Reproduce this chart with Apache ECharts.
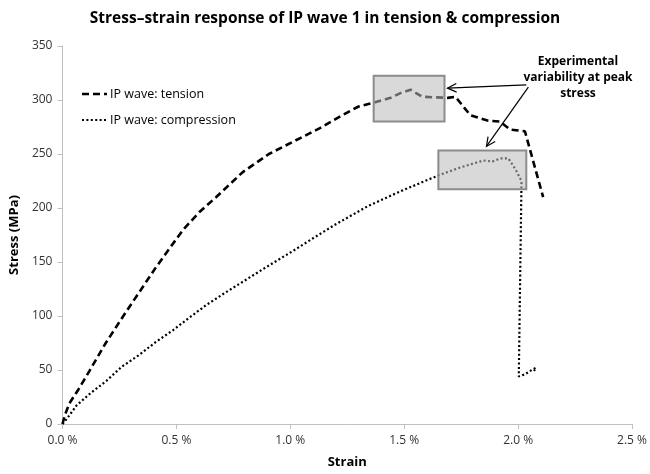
<!DOCTYPE html>
<html>
<head>
<meta charset="utf-8">
<script src="https://cdn.jsdelivr.net/npm/echarts@6/dist/echarts.min.js"></script>
<style>html,body{margin:0;padding:0;background:#fff}#c{width:650px;height:474px}</style>
</head>
<body>
<div id="c"></div>
<script>
// Strain (%) and stress (MPa)
const tensionStrain = [0, 0.01, 0.03, 0.07, 0.118, 0.19, 0.267, 0.34, 0.41, 0.468, 0.53, 0.6, 0.674, 0.79, 0.906, 1.046, 1.13, 1.22, 1.3, 1.366, 1.44, 1.49, 1.528, 1.58, 1.69, 1.725, 1.79, 1.865, 1.92, 1.966, 2.03, 2.11];
const tensionStress = [0, 8, 19, 32, 49, 75, 100, 123, 145, 162, 180, 196, 210, 233, 250, 265, 274, 285, 294, 297.5, 302, 307, 309.5, 303, 302, 303, 286, 281, 280, 272.6, 271, 210];
const compStrain = [0, 0.02, 0.061, 0.12, 0.193, 0.26, 0.337, 0.41, 0.486, 0.56, 0.63, 0.71, 0.79, 0.9, 1.01, 1.1, 1.2, 1.34, 1.484, 1.58, 1.66, 1.747, 1.848, 1.887, 1.922, 1.957, 1.988, 2.015, 2.01, 2.003, 2.03, 2.06, 2.078, 2.07];
const compStress = [0, 5, 17, 28, 40, 53, 64, 76, 87, 99, 110, 121, 131.5, 146, 160, 172, 185, 201.7, 215.5, 224, 231, 237.6, 244, 243, 246, 246, 236, 225, 150, 44, 46, 50, 52, 49];
const xTicks = [0, 0.5, 1.0, 1.5, 2.0, 2.5];
const yTicks = [0, 50, 100, 150, 200, 250, 300, 350];
const seriesNames = ['IP wave: tension', 'IP wave: compression'];
// Annotation regions (strain %, stress MPa)
const peakBoxes = [[1.366, 322.4, 1.677, 280], [1.65, 253.3, 2.036, 217.4]];
const arrowTail = [[2.036, 314], [2.045, 312]];
const arrowHead = [[1.69, 311], [1.861, 257]];
const noteLines = ['Experimental', 'variability at peak', 'stress'];

const font = '"Open Sans", "Noto Sans", sans-serif';
const pair = (xs, ys) => xs.map((x, i) => [x, ys[i]]);
const dashT = [7, 4], dashC = [2, 2.4];

const chart = echarts.init(document.getElementById('c'), null, {renderer: 'canvas'});
chart.setOption({
  animation: false,
  title: {
    text: 'Stress\u2013strain response of IP wave 1 in tension & compression',
    left: 'center', top: 6,
    textStyle: {fontFamily: font, fontWeight: 'bold', fontSize: 15.5, color: '#000'}
  },
  grid: {left: 61, right: 18, top: 46, bottom: 48},
  xAxis: {
    type: 'value', min: xTicks[0], max: xTicks[xTicks.length - 1], interval: 0.5,
    name: 'Strain', nameLocation: 'middle', nameGap: 32,
    nameTextStyle: {fontFamily: font, fontWeight: 'bold', fontSize: 13, color: '#000'},
    axisLine: {show: true, lineStyle: {color: '#bfbfbf', width: 1}},
    axisTick: {show: true, length: 5, lineStyle: {color: '#bfbfbf'}},
    splitLine: {show: false},
    axisLabel: {fontFamily: font, fontSize: 12, color: '#333', margin: 11,
      formatter: v => v.toFixed(1) + ' %'}
  },
  yAxis: {
    type: 'value', min: yTicks[0], max: yTicks[yTicks.length - 1], interval: 50,
    name: 'Stress (MPa)', nameLocation: 'middle', nameGap: 35, nameRotate: 90,
    nameTextStyle: {fontFamily: font, fontWeight: 'bold', fontSize: 13, color: '#000'},
    axisLine: {show: true, lineStyle: {color: '#bfbfbf', width: 1}},
    axisTick: {show: true, length: 5, lineStyle: {color: '#bfbfbf'}},
    splitLine: {show: false},
    axisLabel: {fontFamily: font, fontSize: 12, color: '#333', margin: 10}
  },
  series: [
    {
      name: seriesNames[0], type: 'line', data: pair(tensionStrain, tensionStress),
      symbol: 'none', smooth: false, z: 2,
      lineStyle: {color: '#000', width: 2.6, type: dashT}
    },
    {
      name: seriesNames[1], type: 'line', data: pair(compStrain, compStress),
      symbol: 'none', smooth: false, z: 2,
      lineStyle: {color: '#000', width: 2.2, type: dashC}
    }
  ]
});

function px(p) { return chart.convertToPixel({gridIndex: 0}, p); }
const graphics = [];
// legend
[[dashT, 2.6], [dashC, 2.2]].forEach((s, i) => {
  const y = 94 + i * 26;
  graphics.push({type: 'line', z: 101, shape: {x1: 82, y1: y, x2: 107, y2: y},
    style: {stroke: '#000', lineWidth: s[1], lineDash: s[0]}});
  graphics.push({type: 'text', z: 101, x: 110, y: y,
    style: {text: seriesNames[i], fontFamily: font, fontSize: 12.5, fill: '#000',
      align: 'left', verticalAlign: 'middle'}});
});
peakBoxes.forEach(b => {
  const a = px([b[0], b[1]]), c = px([b[2], b[3]]);
  graphics.push({
    type: 'rect', z: 100,
    shape: {x: a[0], y: a[1], width: c[0] - a[0], height: c[1] - a[1]},
    style: {fill: 'rgba(185,185,185,0.55)', stroke: '#8c8c8c', lineWidth: 2}
  });
});
arrowTail.forEach((t, i) => {
  const p0 = px(t), p1 = px(arrowHead[i]);
  const ang = Math.atan2(p1[1] - p0[1], p1[0] - p0[0]);
  const L = 10, w = 0.45;
  const h1 = [p1[0] - L * Math.cos(ang - w), p1[1] - L * Math.sin(ang - w)];
  const h2 = [p1[0] - L * Math.cos(ang + w), p1[1] - L * Math.sin(ang + w)];
  graphics.push({type: 'line', z: 101, shape: {x1: p0[0], y1: p0[1], x2: p1[0], y2: p1[1]},
    style: {stroke: '#000', lineWidth: 1.2}});
  graphics.push({type: 'polyline', z: 101, shape: {points: [h1, p1, h2]},
    style: {stroke: '#000', lineWidth: 1.2, fill: null}});
});
graphics.push({
  type: 'text', z: 101, x: 578, y: 54,
  style: {text: noteLines.join('\n'), fontFamily: font, fontWeight: 'bold', fontSize: 12,
    lineHeight: 16, fill: '#000', align: 'center', verticalAlign: 'top'}
});
chart.setOption({graphic: graphics});
</script>
</body>
</html>
